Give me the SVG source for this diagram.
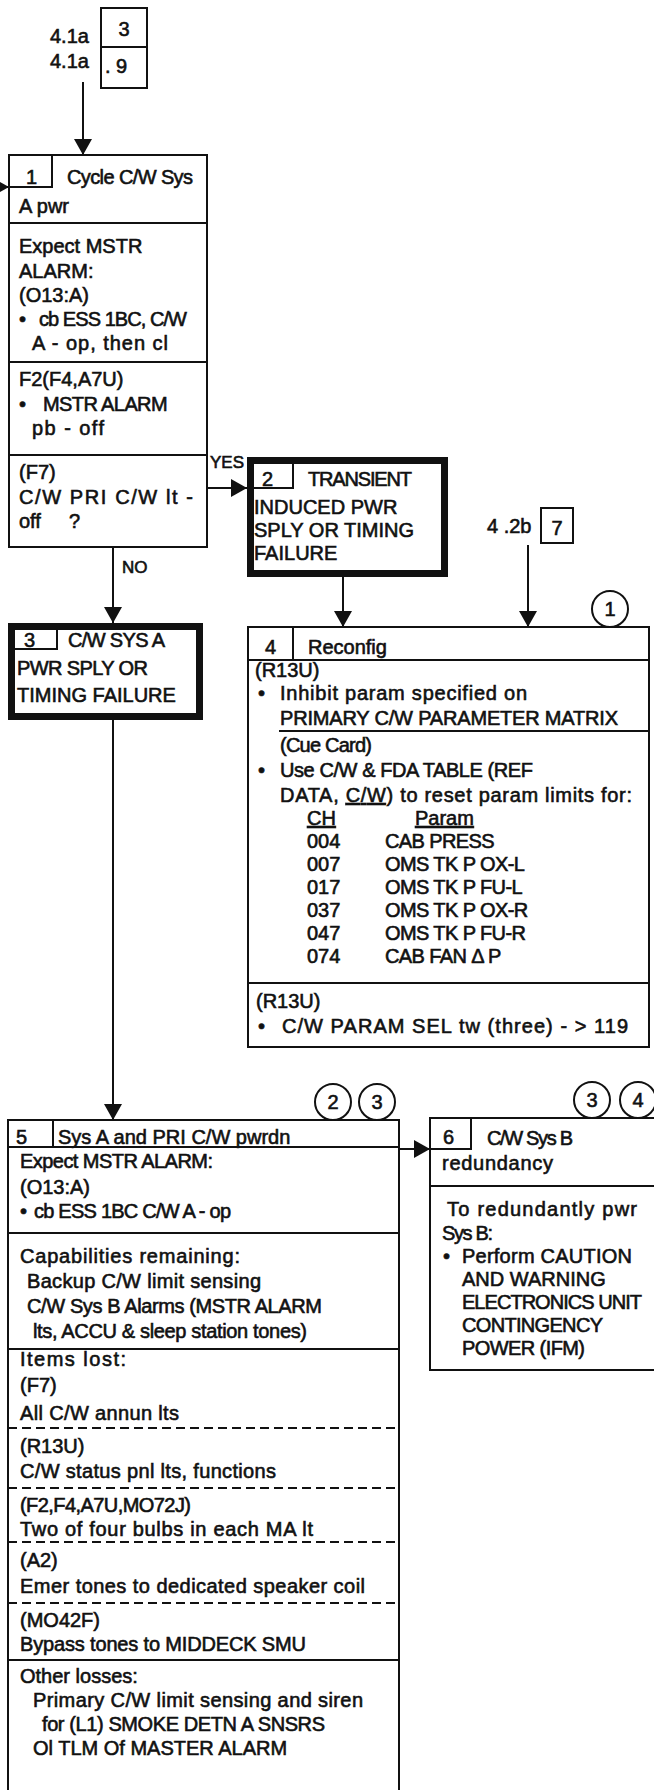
<svg xmlns="http://www.w3.org/2000/svg" width="654" height="1790" viewBox="0 0 654 1790">
<defs>
<marker id="ah" markerUnits="userSpaceOnUse" markerWidth="16" markerHeight="18" refX="16" refY="9" orient="auto"><path d="M0,0 L16,9 L0,18 z" fill="#111"/></marker>
<style>
text{font-family:"Liberation Sans",Arial,sans-serif;font-size:20px;fill:#111;stroke:#111;stroke-width:0.6px}
.m{text-anchor:middle}
.box{fill:#fff;stroke:#111;stroke-width:2}
.thick{fill:#fff;stroke:#111;stroke-width:7}
.ln{stroke:#111;stroke-width:2;fill:none}
.dash{stroke:#111;stroke-width:2;fill:none;stroke-dasharray:9 5}
.con{stroke:#111;stroke-width:2;fill:none;marker-end:url(#ah)}
.circ{fill:#fff;stroke:#111;stroke-width:2}
.u{text-decoration:underline}
.c{letter-spacing:-0.6px}
</style>
</defs>
<rect width="654" height="1790" fill="#fff"/>

<g id="connectors">
<line class="con" x1="83" y1="82" x2="83" y2="155"/>
<line class="con" x1="-20" y1="187" x2="9" y2="187"/>
<line class="con" x1="207" y1="488" x2="247" y2="488"/>
<line class="con" x1="113" y1="547" x2="113" y2="623"/>
<line class="con" x1="343" y1="577" x2="343" y2="627"/>
<line class="con" x1="528" y1="545" x2="528" y2="627"/>
<line class="con" x1="113" y1="720" x2="113" y2="1120"/>
<line class="con" x1="399" y1="1149" x2="430" y2="1149"/>
<text x="210" y="468" style="font-size:17px">YES</text>
<text x="122" y="573" style="font-size:17px">NO</text>
</g>

<g id="ref-4-1a">
<text x="50" y="43">4.1a</text>
<text x="50" y="68">4.1a</text>
<rect class="box" x="101" y="8" width="46" height="39"/>
<rect class="box" x="101" y="47" width="46" height="41"/>
<text class="m" x="124" y="36">3</text>
<text x="105" y="73">. 9</text>
</g>

<g id="ref-4-2b">
<text x="487" y="533">4 .2b</text>
<rect class="box" x="541" y="508" width="32" height="35"/>
<text class="m" x="557" y="535">7</text>
</g>

<g id="box1">
<rect class="box" x="9" y="155" width="198" height="392"/>
<path class="ln" d="M52,155 V187 H9 M9,223 H207 M9,362 H207 M9,455 H207"/>
<text x="26" y="184">1</text>
<text x="67" y="184" textLength="126" lengthAdjust="spacing">Cycle C/W Sys</text>
<text x="19" y="213">A pwr</text>
<text x="19" y="253">Expect MSTR</text>
<text x="19" y="278">ALARM:</text>
<text x="19" y="302">(O13:A)</text>
<text x="19" y="326">•</text>
<text x="39" y="326" textLength="148" lengthAdjust="spacing">cb ESS 1BC, C/W</text>
<text x="32" y="350" textLength="136" lengthAdjust="spacing">A - op, then cl</text>
<text x="19" y="386">F2(F4,A7U)</text>
<text x="19" y="411">•</text>
<text x="43" y="411" class="c">MSTR ALARM</text>
<text x="32" y="435" textLength="72" lengthAdjust="spacing">pb - off</text>
<text x="19" y="479">(F7)</text>
<text x="19" y="504" textLength="174" lengthAdjust="spacing">C/W PRI C/W lt -</text>
<text x="19" y="528">off<tspan x="69">?</tspan></text>
</g>

<g id="box2">
<rect class="thick" x="250.5" y="460.5" width="194" height="113"/>
<path class="ln" d="M293,457 V488 H247"/>
<text x="262" y="486">2</text>
<text x="308" y="486" textLength="104" lengthAdjust="spacing">TRANSIENT</text>
<text x="254" y="514">INDUCED PWR</text>
<text x="254" y="537">SPLY OR TIMING</text>
<text x="254" y="560">FAILURE</text>
</g>

<g id="box3">
<rect class="thick" x="11.5" y="626.5" width="188" height="90"/>
<path class="ln" d="M57,623 V649 H8"/>
<text x="24" y="647">3</text>
<text x="68" y="647" textLength="97" lengthAdjust="spacing">C/W SYS A</text>
<text x="17" y="675" textLength="131" lengthAdjust="spacing">PWR SPLY OR</text>
<text x="17" y="702">TIMING FAILURE</text>
</g>

<g id="box4">
<rect class="box" x="248" y="627" width="401" height="420"/>
<path class="ln" d="M293,627 V660 M248,660 H649 M279,731 H649 M248,983 H649"/>
<circle class="circ" cx="610" cy="609" r="18"/>
<text class="m" x="610" y="616">1</text>
<text x="265" y="654">4</text>
<text x="308" y="654">Reconfig</text>
<text x="255" y="677">(R13U)</text>
<text x="258" y="700">•</text>
<text x="280" y="700" textLength="247" lengthAdjust="spacing">Inhibit param specified on</text>
<text x="280" y="725" textLength="338" lengthAdjust="spacing">PRIMARY C/W PARAMETER MATRIX</text>
<text x="280" y="752" textLength="92" lengthAdjust="spacing">(Cue Card)</text>
<text x="258" y="777">•</text>
<text x="280" y="777" textLength="253" lengthAdjust="spacing">Use C/W &amp; FDA TABLE (REF</text>
<text x="280" y="802" textLength="352" lengthAdjust="spacing">DATA, <tspan class="u">C/W</tspan>) to reset param limits for:</text>
<text x="307" y="825" class="u">CH</text>
<text x="415" y="825" class="u">Param</text>
<text x="307" y="848">004</text><text x="385" y="848" class="c">CAB PRESS</text>
<text x="307" y="871">007</text><text x="385" y="871" class="c">OMS TK P OX-L</text>
<text x="307" y="894">017</text><text x="385" y="894" class="c">OMS TK P FU-L</text>
<text x="307" y="917">037</text><text x="385" y="917" class="c">OMS TK P OX-R</text>
<text x="307" y="940">047</text><text x="385" y="940" class="c">OMS TK P FU-R</text>
<text x="307" y="963">074</text><text x="385" y="963" class="c">CAB FAN Δ P</text>
<text x="256" y="1008">(R13U)</text>
<text x="258" y="1033">•</text>
<text x="282" y="1033" textLength="346" lengthAdjust="spacing">C/W PARAM SEL tw (three) - &gt; 119</text>
</g>

<g id="box5">
<rect class="box" x="8" y="1120" width="391" height="700"/>
<path class="ln" d="M53,1120 V1147 M8,1147 H399 M8,1233 H399 M8,1349 H399 M8,1660 H399"/>
<path class="dash" d="M8,1428 H399 M8,1488 H399 M8,1542 H399 M8,1603 H399"/>
<circle class="circ" cx="333" cy="1102" r="18"/>
<text class="m" x="333" y="1109">2</text>
<circle class="circ" cx="377" cy="1102" r="18"/>
<text class="m" x="377" y="1109">3</text>
<text x="16" y="1144">5</text>
<text x="58" y="1144">Sys A and PRI C/W pwrdn</text>
<text x="20" y="1168" textLength="193" lengthAdjust="spacing">Expect MSTR ALARM:</text>
<text x="20" y="1194">(O13:A)</text>
<text x="20" y="1218">•</text>
<text x="34" y="1218" textLength="197" lengthAdjust="spacing">cb ESS 1BC C/W A - op</text>
<text x="20" y="1263" textLength="220" lengthAdjust="spacing">Capabilities remaining:</text>
<text x="27" y="1288" textLength="234" lengthAdjust="spacing">Backup C/W limit sensing</text>
<text x="27" y="1313" textLength="295" lengthAdjust="spacing">C/W Sys B Alarms (MSTR ALARM</text>
<text x="33" y="1338" textLength="274" lengthAdjust="spacing">lts, ACCU &amp; sleep station tones)</text>
<text x="20" y="1366" textLength="106" lengthAdjust="spacing">Items lost:</text>
<text x="20" y="1392">(F7)</text>
<text x="20" y="1420" textLength="159" lengthAdjust="spacing">All C/W annun lts</text>
<text x="20" y="1453">(R13U)</text>
<text x="20" y="1478" textLength="256" lengthAdjust="spacing">C/W status pnl lts, functions</text>
<text x="20" y="1512" textLength="171" lengthAdjust="spacing">(F2,F4,A7U,MO72J)</text>
<text x="20" y="1536" textLength="293" lengthAdjust="spacing">Two of four bulbs in each MA lt</text>
<text x="20" y="1567">(A2)</text>
<text x="20" y="1593" textLength="345" lengthAdjust="spacing">Emer tones to dedicated speaker coil</text>
<text x="20" y="1627">(MO42F)</text>
<text x="20" y="1651" textLength="286" lengthAdjust="spacing">Bypass tones to MIDDECK SMU</text>
<text x="20" y="1683">Other losses:</text>
<text x="33" y="1707" textLength="330" lengthAdjust="spacing">Primary C/W limit sensing and siren</text>
<text x="42" y="1731" textLength="283" lengthAdjust="spacing">for (L1) SMOKE DETN A SNSRS</text>
<text x="33" y="1755">Ol TLM Of MASTER ALARM</text>
</g>

<g id="box6">
<rect class="box" x="430" y="1118" width="240" height="252"/>
<path class="ln" d="M471,1118 V1149 H430 M430,1186 H660"/>
<circle class="circ" cx="592" cy="1100" r="18"/>
<text class="m" x="592" y="1107">3</text>
<circle class="circ" cx="638" cy="1100" r="18"/>
<text class="m" x="638" y="1107">4</text>
<text x="443" y="1144">6</text>
<text x="487" y="1145" textLength="86" lengthAdjust="spacing">C/W Sys B</text>
<text x="442" y="1170" textLength="111" lengthAdjust="spacing">redundancy</text>
<text x="447" y="1216" textLength="190" lengthAdjust="spacing">To redundantly pwr</text>
<text x="442" y="1240" textLength="51" lengthAdjust="spacing">Sys B:</text>
<text x="443" y="1263">•</text>
<text x="462" y="1263" textLength="170" lengthAdjust="spacing">Perform CAUTION</text>
<text x="462" y="1286">AND WARNING</text>
<text x="462" y="1309" textLength="180" lengthAdjust="spacing">ELECTRONICS UNIT</text>
<text x="462" y="1332" textLength="141" lengthAdjust="spacing">CONTINGENCY</text>
<text x="462" y="1355" textLength="123" lengthAdjust="spacing">POWER (IFM)</text>
</g>
</svg>
